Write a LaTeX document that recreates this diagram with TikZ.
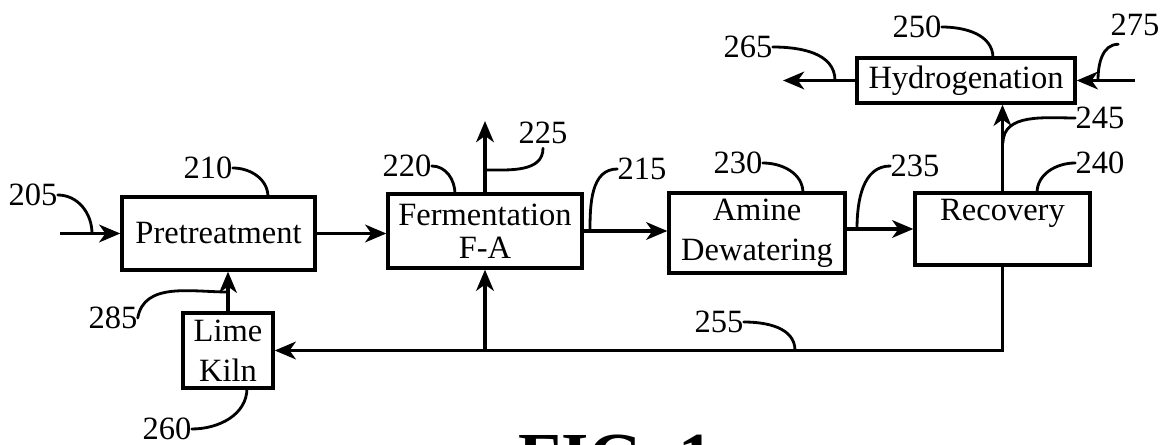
\documentclass[tikz,border=0pt]{standalone}
\usepackage{fontspec}
\setmainfont{Liberation Serif}
\usetikzlibrary{arrows.meta, positioning, calc}
\tikzstyle{arrow} = [line width=2.2pt,-{Stealth[length=12pt,width=10pt,inset=3.5pt]}]

\begin{document}
\begin{tikzpicture}[x=0.02cm, y=-0.02cm, every node/.style={font=\fontsize{18.5}{23}\selectfont, align=center}]
    % Define styles with \tikzset
    \tikzset{
        stage/.style={rectangle, draw=black, line width=1.9pt, inner sep=0pt},
        flow/.style={line width=2.2pt},
        lead/.style={line width=1.6pt, line cap=round},
        num/.style={inner sep=0pt}
    }
    \useasboundingbox (0,0) rectangle (1174,445);

    % --- PROCESS STAGES ---
    \node (pre) [stage, minimum width=3.86cm, minimum height=1.46cm] at (218.5,233.5) {Pretreatment};
    \node (ferm) [stage, minimum width=3.88cm, minimum height=1.48cm, font=\fontsize{18.5}{19}\selectfont] at (485,231) {Fermentation\\F-A};
    \node (amine) [stage, minimum width=3.52cm, minimum height=1.6cm] at (757,233) {Amine\\Dewatering};
    \node (recov) [stage, minimum width=3.5cm, minimum height=1.44cm] at (1002.5,229) {};
    \node (recovtxt) [anchor=north, inner sep=0pt] at ($(recov.north)+(0,8)$) {Recovery};
    \node (hydro) [stage, minimum width=4.36cm, minimum height=0.9cm] at (966,80.5) {Hydrogenation};
    \node (kiln) [stage, minimum width=1.8cm, minimum height=1.5cm] at (228,350.5) {Lime\\Kiln};

    % --- FREE ENDS ---
    \coordinate (feed) at (60,233.5);
    \coordinate (vent) at (485,121);
    \coordinate (h2in) at (1135,80.5);
    \coordinate (prod) at (783,80.5);

    % --- MAIN FLOW ---
    \draw[arrow] (feed) -- (pre.west);
    \draw[arrow] (pre.east) -- (pre.east -| ferm.west);
    \draw[arrow] (ferm.east) -- (ferm.east -| amine.west);
    \draw[arrow] (amine.east |- recov) -- (recov.west);
    \draw[arrow] (recov.north) -- (recov.north |- hydro.south);
    \draw[arrow] (h2in) -- (hydro.east);
    \draw[arrow] (hydro.west) -- (prod);
    \draw[arrow] (ferm.north) -- (vent);

    % --- RECYCLE ---
    \draw[flow] (recov.south) |- (ferm.south |- kiln.east);
    \draw[arrow] (ferm.south |- kiln.east) -- (kiln.east);
    \draw[arrow] (ferm.south |- kiln.east) -- (ferm.south);
    \draw[arrow] (kiln.north) -- (kiln.north |- pre.south);

    % --- REFERENCE NUMERALS ---
    \node (n205) [num] at (33,195) {205};
    \node (n210) [num] at (208,168) {210};
    \node (n220) [num] at (407,166) {220};
    \node (n225) [num] at (543,133) {225};
    \node (n215) [num] at (642,169) {215};
    \node (n230) [num] at (738,163) {230};
    \node (n235) [num] at (915,166) {235};
    \node (n240) [num] at (1100,163) {240};
    \node (n245) [num] at (1100,118) {245};
    \node (n250) [num] at (917,27) {250};
    \node (n275) [num] at (1135,25) {275};
    \node (n265) [num] at (748,47) {265};
    \node (n255) [num] at (719,322) {255};
    \node (n285) [num] at (113,318) {285};
    \node (n260) [num] at (167,429) {260};

    % leader lines
    \draw[lead] (n205.east) to[out=0, in=90] (92,233.5);
    \draw[lead] (n210.east) to[out=0, in=90] (268,197);
    \draw[lead] (n220.east) to[out=0, in=90] (455,194);
    \draw[lead] ($(n225.south)+(0,4)$) to[out=-90, in=0] (485,170);
    \draw[lead] (n215.west) to[out=180, in=90] (590,231);
    \draw[lead] (n230.east) to[out=0, in=90] (803,193);
    \draw[lead] (n235.west) to[out=180, in=90] (857,229);
    \draw[lead] (n240.west) to[out=180, in=90] (1037,193);
    \draw[lead] (n245.west) to[out=180, in=90] (1003,143);
    \draw[lead] (n250.east) to[out=0, in=90] (993,58);
    \draw[lead] ($(n275.south west)+(8,8)$) to[out=180, in=90] (1098,80.5);
    \draw[lead] (n265.east) to[out=0, in=90] (835,80.5);
    \draw[lead] (n255.east) to[out=0, in=90] (795,350.5);
    \draw[lead] (n285.east) to[out=80, in=180] (228,292);
    \draw[lead] (n260.east) to[out=0, in=-90] (247,388);

    % --- CAPTION (cut by the page edge, as in the source) ---
    \node (figcap) [font=\fontsize{40}{40}\selectfont\bfseries, anchor=base] at (616,482) {FIG. 1};
\end{tikzpicture}
\end{document}
